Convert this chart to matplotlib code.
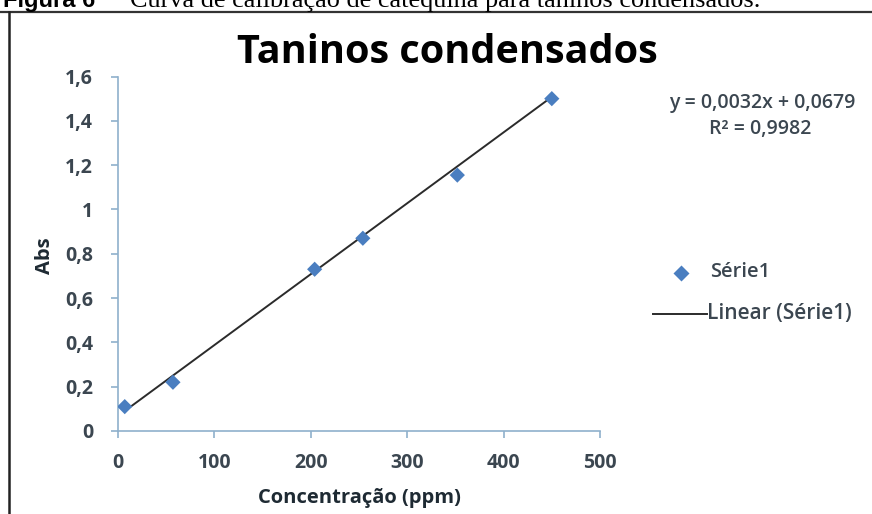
import matplotlib
matplotlib.use("Agg")
import matplotlib.pyplot as plt
from matplotlib.lines import Line2D
import numpy as np

# data
conc = [7, 57, 204, 254, 352, 450]
absorb = [0.11, 0.22, 0.73, 0.87, 1.155, 1.50]
slope = 0.0032
intercept = 0.0679
r2 = 0.9982
xticks = [0, 100, 200, 300, 400, 500]
yticks = [0, 0.2, 0.4, 0.6, 0.8, 1.0, 1.2, 1.4, 1.6]
ytick_labels = ["0", "0,2", "0,4", "0,6", "0,8", "1", "1,2", "1,4", "1,6"]

W, H = 872, 514
fig = plt.figure(figsize=(W / 100, H / 100), dpi=100)
fig.patch.set_facecolor("white")

FONT = "Open Sans"
TXT = "#3b4650"
AXC = "#8fb0cc"
BLUE = "#4a7ec0"

def fx(px):
    return px / W

def fy(py):
    return 1 - py / H

# caption (partially cut at top, as in the reference)
fig.text(fx(3), fy(7), "Figura 6", fontsize=17, fontweight="bold",
         family="Liberation Sans", va="baseline", ha="left", color="black")
fig.text(fx(130), fy(7), "Curva de calibração de catequina para taninos condensados.",
         fontsize=18.9, family="Liberation Serif", va="baseline", ha="left", color="black")

# frame lines
fig.add_artist(Line2D([fx(0), fx(W)], [fy(12), fy(12)], color="#333333", lw=1.6))
fig.add_artist(Line2D([fx(9), fx(9)], [fy(12), fy(H)], color="#222222", lw=1.8))

ax = fig.add_axes([fx(118), fy(431), fx(600) - fx(118), fy(76.5) - fy(431)])
ax.set_facecolor("white")

xs = np.array([min(conc), max(conc)])
ax.plot(xs, slope * xs + intercept, color="#2b2b2b", lw=1.4, zorder=2)
ax.scatter(conc, absorb, marker="D", s=60, color=BLUE, edgecolor="none", zorder=3)

ax.set_xlim(0, 500)
ax.set_ylim(0, 1.6)
ax.set_xticks(xticks)
ax.set_xticklabels([str(t) for t in xticks])
ax.set_yticks(yticks)
ax.set_yticklabels(ytick_labels)
for s in ["top", "right"]:
    ax.spines[s].set_visible(False)
for s in ["left", "bottom"]:
    ax.spines[s].set_color(AXC)
    ax.spines[s].set_linewidth(1.2)
ax.tick_params(axis="both", colors=AXC, length=5, width=1.2, direction="out",
               labelcolor=TXT, labelsize=14)
ax.tick_params(axis="x", pad=11)
ax.tick_params(axis="y", pad=13)
for lab in ax.get_xticklabels() + ax.get_yticklabels():
    lab.set_family(FONT)
    lab.set_fontweight("bold")

ax.set_xlabel("Concentração (ppm)", fontsize=14.5, fontweight="bold", family=FONT,
              color="#1e2a33", labelpad=11)
fig.text(fx(45), fy(256), "Abs", rotation=90, fontsize=14.5, fontweight="bold",
         family=FONT, color="#1e2a33", ha="center", va="center")

fig.text(fx(447), fy(63), "Taninos condensados", fontsize=28.5, fontweight="bold",
         family=FONT, color="black", ha="center", va="baseline")

fig.text(fx(762), fy(103), "y = 0,0032x + 0,0679", fontsize=14, family=FONT,
         color=TXT, ha="center", va="center", fontweight="semibold")
fig.text(fx(760), fy(129), "R² = 0,9982", fontsize=14, family=FONT,
         color=TXT, ha="center", va="center", fontweight="semibold")

# legend
fig.add_artist(Line2D([fx(681)], [fy(273)], marker="D", markersize=8.5, color=BLUE,
                      markeredgecolor="none", linestyle="none"))
fig.text(fx(710), fy(272), "Série1", fontsize=14.5, family=FONT, color=TXT,
         ha="left", va="center", fontweight="semibold")
fig.add_artist(Line2D([fx(653), fx(707)], [fy(314), fy(314)], color="#2b2b2b", lw=1.4))
fig.text(fx(707), fy(313), "Linear (Série1)", fontsize=15, family=FONT, color=TXT,
         ha="left", va="center", fontweight="semibold")

fig.savefig("out.png", dpi=100)
